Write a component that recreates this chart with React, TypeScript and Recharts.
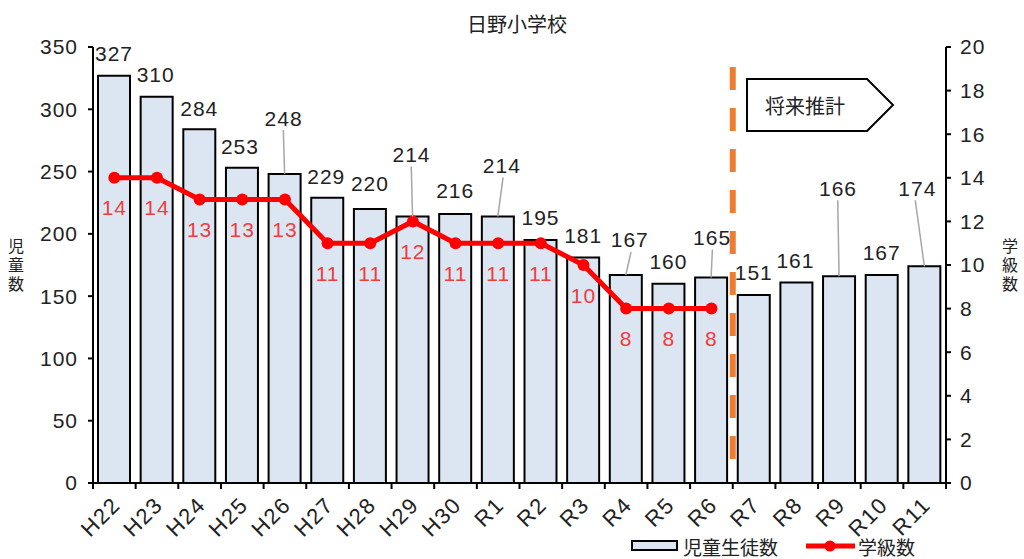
import {
  ComposedChart,
  Bar,
  Line,
  XAxis,
  YAxis,
  LabelList,
  Legend,
  ReferenceLine,
} from "recharts";

const categories = [
  "H22", "H23", "H24", "H25", "H26", "H27", "H28", "H29", "H30",
  "R1", "R2", "R3", "R4", "R5", "R6", "R7", "R8", "R9", "R10", "R11",
];
const students = [
  327, 310, 284, 253, 248, 229, 220, 214, 216, 214,
  195, 181, 167, 160, 165, 151, 161, 166, 167, 174,
];
const classes: (number | null)[] = [
  14, 14, 13, 13, 13, 11, 11, 12, 11, 11, 11, 10, 8, 8, 8,
  null, null, null, null, null,
];
const leftTicks = [0, 50, 100, 150, 200, 250, 300, 350];
const rightTicks = [0, 2, 4, 6, 8, 10, 12, 14, 16, 18, 20];

// label nudges [dx, dy from bar top, leader line]
const studentLabelNudge: [number, number, boolean][] = [
  [0, -22, false], [-1, -22, false], [0, -21, false], [-2, -21, false],
  [-1, -56, true], [-1, -21, false], [0, -25, false], [-1, -62, true],
  [0, -23, false], [4, -51, true], [0, -23, false], [0, -22, false],
  [4, -35, true], [0, -22, false], [1, -40, true], [0, -22, false],
  [-1, -22, false], [-1, -88, true], [0, -22, false], [-7, -78, true],
];

const data = categories.map((c, i) => ({
  year: c,
  students: students[i],
  classes: classes[i],
}));

const NUM_FONT = "'Liberation Sans', Arial, 'Noto Sans CJK JP', sans-serif";
const JP_FONT = "'Noto Sans CJK JP', 'Noto Sans', sans-serif";
const BAND = (946 - 93) / categories.length;

function YearTick(props: any) {
  const { x, y, payload, index } = props;
  const tx = x + 2;
  const ty = y + 18;
  return (
    <g>
      <line x1={x - BAND / 2} y1={y} x2={x - BAND / 2} y2={y + 6} stroke="#000" strokeWidth={2} />
      {index === categories.length - 1 && (
        <line x1={x + BAND / 2} y1={y} x2={x + BAND / 2} y2={y + 6} stroke="#000" strokeWidth={2} />
      )}
      <text
        x={tx}
        y={ty}
        transform={`rotate(-45 ${tx} ${ty})`}
        textAnchor="end"
        dominantBaseline="central"
        fontSize={22}
        fontFamily={NUM_FONT}
        letterSpacing={1.5}
        fill="#222"
      >
        {payload.value}
      </text>
    </g>
  );
}

function StudentLabel(p: any) {
  const vb = p.viewBox || p;
  const x = (vb.x ?? p.x) + (vb.width ?? p.width) / 2;
  const top = vb.y ?? p.y;
  const [dx, dy, leader] = studentLabelNudge[p.index] || [0, -22, false];
  const lx = x + dx;
  const ly = top + dy;
  return (
    <g>
      {leader && (
        <line x1={lx + dx * 0.3} y1={ly + 12} x2={x} y2={top} stroke="#a6a6a6" strokeWidth={1.5} />
      )}
      <text
        x={lx}
        y={ly}
        textAnchor="middle"
        dominantBaseline="central"
        fontSize={21}
        fontFamily={NUM_FONT}
        letterSpacing={1}
        fill="#222"
      >
        {p.value}
      </text>
    </g>
  );
}

function ClassLabel(p: any) {
  if (p.value == null) return null;
  const vb = p.viewBox || p;
  const x = vb.x ?? p.x;
  const y = vb.y ?? p.y;
  return (
    <text
      x={x}
      y={y + 30}
      textAnchor="middle"
      dominantBaseline="central"
      fontSize={21}
      fontFamily={NUM_FONT}
      letterSpacing={1}
      fill="#f03c3c"
    >
      {p.value}
    </text>
  );
}

function VerticalTitle({ x, chars }: { x: number; chars: string }) {
  return (
    <text
      x={x}
      y={266}
      textAnchor="middle"
      fontSize={16}
      fontFamily={JP_FONT}
      letterSpacing={3}
      fill="#222"
      style={{ writingMode: "vertical-rl" }}
    >
      {chars}
    </text>
  );
}

function LegendBox() {
  return (
    <div style={{ position: "relative", height: 26 }}>
      <svg width={1024} height={26} style={{ position: "absolute", left: 0, top: 0 }}>
        <rect x={632} y={8} width={45} height={9} fill="#dce6f2" stroke="#000" strokeWidth={2} />
        <text x={683} y={13} dominantBaseline="central" fontSize={19} fontFamily={JP_FONT} fill="#222">
          児童生徒数
        </text>
        <line x1={806} y1={13} x2={855} y2={13} stroke="#ff0000" strokeWidth={5} />
        <circle cx={830} cy={13} r={5.5} fill="#ff0000" />
        <text x={858} y={13} dominantBaseline="central" fontSize={19} fontFamily={JP_FONT} fill="#222">
          学級数
        </text>
      </svg>
    </div>
  );
}

export default function App() {
  return (
    <div style={{ position: "absolute", left: 0, top: 0, width: 1024, height: 559, background: "#fff" }}>
      <div
        style={{
          position: "absolute",
          left: 0,
          top: 9,
          width: 1034,
          textAlign: "center",
          fontFamily: JP_FONT,
          fontSize: 20,
          color: "#222",
        }}
      >
        日野小学校
      </div>
      <ComposedChart
        width={1024}
        height={559}
        data={data}
        margin={{ top: 47, right: 0, bottom: 0, left: 0 }}
      >
        <XAxis
          dataKey="year"
          height={50}
          interval={0}
          tickSize={0}
          tickMargin={0}
          tickLine={false}
          axisLine={{ stroke: "#000", strokeWidth: 2 }}
          tick={<YearTick />}
        />
        <YAxis
          yAxisId="left"
          width={93}
          domain={[0, 350]}
          ticks={leftTicks}
          interval={0}
          tickSize={5}
          tickMargin={10}
          axisLine={{ stroke: "#000", strokeWidth: 2 }}
          tickLine={{ stroke: "#000", strokeWidth: 2 }}
          tick={{ fill: "#222", fontSize: 21, fontFamily: NUM_FONT, letterSpacing: 1 }}
          label={{ content: () => <VerticalTitle x={16} chars="児童数" /> }}
        />
        <YAxis
          yAxisId="right"
          orientation="right"
          width={78}
          domain={[0, 20]}
          ticks={rightTicks}
          interval={0}
          tickSize={5}
          tickMargin={9}
          axisLine={{ stroke: "#000", strokeWidth: 2 }}
          tickLine={{ stroke: "#000", strokeWidth: 2 }}
          tick={{ fill: "#222", fontSize: 21, fontFamily: NUM_FONT, letterSpacing: 1 }}
          label={{ content: () => <VerticalTitle x={1010} chars="学級数" /> }}
        />
        <Legend verticalAlign="bottom" align="left" content={() => <LegendBox />} />
        <Bar
          yAxisId="left"
          dataKey="students"
          barSize={32}
          fill="#dce6f2"
          stroke="#000"
          strokeWidth={2}
          isAnimationActive={false}
        >
          <LabelList dataKey="students" content={<StudentLabel />} />
        </Bar>
        <Line
          yAxisId="right"
          dataKey="classes"
          stroke="#ff0000"
          strokeWidth={5}
          dot={{ r: 6, fill: "#ff0000", stroke: "#ff0000", strokeWidth: 0 }}
          activeDot={false}
          connectNulls={false}
          isAnimationActive={false}
        >
          <LabelList dataKey="classes" content={<ClassLabel />} />
        </Line>
        <ReferenceLine
          yAxisId="left"
          segment={[
            { x: "R7", y: 334 },
            { x: "R7", y: 12 },
          ]}
          position="start"
          stroke="#ed7d31"
          strokeWidth={6}
          strokeDasharray="23 18"
        />
      </ComposedChart>
      <svg
        width={1024}
        height={559}
        style={{ position: "absolute", left: 0, top: 0, pointerEvents: "none" }}
      >
        <polygon
          points="747,79 867,79 893,105 867,131 747,131"
          fill="#fff"
          stroke="#000"
          strokeWidth={2}
        />
        <text
          x={805}
          y={105}
          textAnchor="middle"
          dominantBaseline="central"
          fontSize={20}
          fontFamily={JP_FONT}
          fill="#222"
        >
          将来推計
        </text>
      </svg>
    </div>
  );
}
